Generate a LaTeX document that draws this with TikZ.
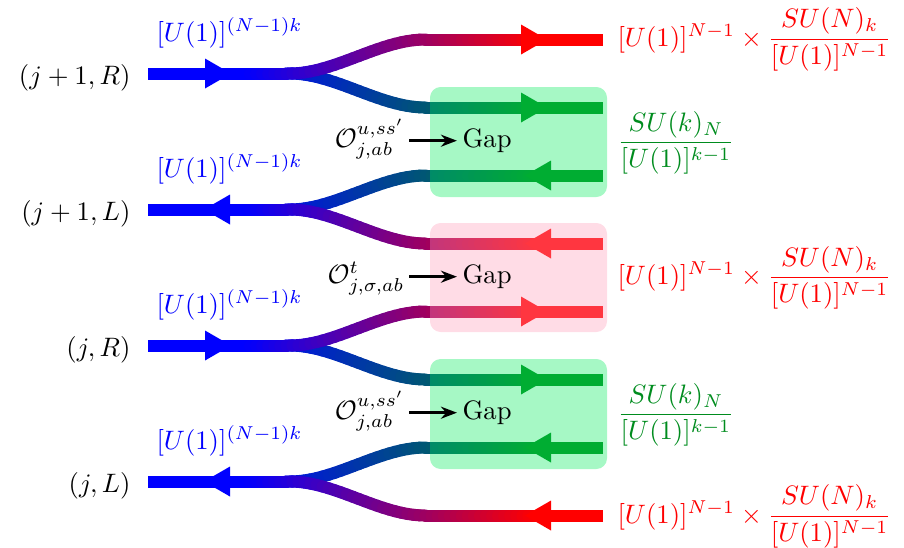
\documentclass[tikz,border=0pt]{standalone}
\usepackage{amsmath}
\usetikzlibrary{arrows.meta}
\definecolor{mygreen}{RGB}{0,140,30}
\definecolor{boxgreen}{RGB}{0,235,90}
\definecolor{boxpink}{RGB}{255,155,184}
\tikzset{
  wire/.style={line width=4.5pt},
  gapbox/.style={opacity=0.35, rounded corners=4pt},
  lbl/.style={inner sep=0pt},
  oparrow/.style={-{Stealth[length=6pt,width=4.5pt]}, line width=1pt, shorten <=1.5pt, shorten >=1.9pt}
}
% #1 stem y, #2 branch y, #3 end colour
\newcommand{\drawbranch}[3]{%
  \draw[wire, blue] (148,#1) -- (252,#1);
  \foreach \i in {0,...,47}{
    \pgfmathsetmacro{\xa}{250+\i*6.05}
    \pgfmathsetmacro{\xb}{\xa+6.05}
    \pgfmathsetmacro{\ta}{min(max((\xa-290)/135,0),1)}
    \pgfmathsetmacro{\tb}{min(max((\xb-290)/135,0),1)}
    \pgfmathsetmacro{\ya}{#1+(#2-#1)*(3*\ta*\ta-2*\ta*\ta*\ta)}
    \pgfmathsetmacro{\yb}{#1+(#2-#1)*(3*\tb*\tb-2*\tb*\tb*\tb)}
    \pgfmathsetmacro{\pc}{(\i+0.5)*100/48}
    \draw[wire, line cap=round, #3!\pc!blue] (\xa,\ya) -- (\xb,\yb);
  }
  \draw[wire, #3] (538,#2) -- (603,#2);
}
\newcommand{\headR}[3]{\fill[#3] (#1-26,#2-15) -- (#1,#2) -- (#1-26,#2+15) -- cycle;}
\newcommand{\headL}[3]{\fill[#3] (#1+26,#2-15) -- (#1,#2) -- (#1+26,#2+15) -- cycle;}
\begin{document}
\begin{tikzpicture}[x=0.375pt,y=-0.375pt]
\useasboundingbox (0,0) rectangle (904,547);
% channel j+1,R
\drawbranch{73.5}{107.5}{mygreen}
\drawbranch{73.5}{39.5}{red}
\headR{231}{73.5}{blue}
\headR{547}{39.5}{red}
\headR{547}{107.5}{mygreen}
% channel j+1,L
\drawbranch{209.5}{175.5}{mygreen}
\drawbranch{209.5}{243.5}{red}
\headL{204}{209.5}{blue}
\headL{525}{175.5}{mygreen}
\headL{525}{243.5}{red}
% channel j,R
\drawbranch{345.5}{379.5}{mygreen}
\drawbranch{345.5}{311.5}{red}
\headR{231}{345.5}{blue}
\headR{547}{311.5}{red}
\headR{547}{379.5}{mygreen}
% channel j,L
\drawbranch{481.5}{447.5}{mygreen}
\drawbranch{481.5}{515.5}{red}
\headL{204}{481.5}{blue}
\headL{525}{447.5}{mygreen}
\headL{525}{515.5}{red}
% boxes
\fill[boxgreen, gapbox] (430,87) rectangle (607,197);
\fill[boxpink, gapbox] (430,223) rectangle (607,332);
\fill[boxgreen, gapbox] (430,359) rectangle (607,469);
% left labels
\node[lbl, anchor=east] (l1) at (131,77.5) {$(j+1,R)$};
\node[lbl, anchor=east] (l2) at (131,213.5) {$(j+1,L)$};
\node[lbl, anchor=east] (l3) at (131,349.5) {$(j,R)$};
\node[lbl, anchor=east] (l4) at (131,485.5) {$(j,L)$};
% blue labels
\node[lbl, anchor=base west, text=blue] (u1) at (156,41.5) {$[U(1)]^{(N-1)k}$};
\node[lbl, anchor=base west, text=blue] (u2) at (156,177.5) {$[U(1)]^{(N-1)k}$};
\node[lbl, anchor=base west, text=blue] (u3) at (156,313.5) {$[U(1)]^{(N-1)k}$};
\node[lbl, anchor=base west, text=blue] (u4) at (156,449.5) {$[U(1)]^{(N-1)k}$};
% right labels
\node[lbl, anchor=base west, text=red] (r1) at (617,46) {$[U(1)]^{N-1}\times\dfrac{SU(N)_k}{[U(1)]^{N-1}}$};
\node[lbl, anchor=base west, text=mygreen] (g1) at (617,149.5) {$\dfrac{SU(k)_N}{[U(1)]^{k-1}}$};
\node[lbl, anchor=base west, text=red] (r2) at (617,284.5) {$[U(1)]^{N-1}\times\dfrac{SU(N)_k}{[U(1)]^{N-1}}$};
\node[lbl, anchor=base west, text=mygreen] (g2) at (617,421.5) {$\dfrac{SU(k)_N}{[U(1)]^{k-1}}$};
\node[lbl, anchor=base west, text=red] (r3) at (617,523) {$[U(1)]^{N-1}\times\dfrac{SU(N)_k}{[U(1)]^{N-1}}$};
% gaps and operators
\node[lbl, anchor=base west] (gap1) at (462,147.5) {Gap};
\node[lbl, anchor=base west] (gap2) at (462,283.5) {Gap};
\node[lbl, anchor=base west] (gap3) at (462,419.5) {Gap};
\node[lbl, anchor=base east] (op1) at (405,147.5) {$\mathcal{O}^{u,ss'}_{j,ab}$};
\node[lbl, anchor=base east] (op2) at (405,283.5) {$\mathcal{O}^{t}_{j,\sigma,ab}$};
\node[lbl, anchor=base east] (op3) at (405,419.5) {$\mathcal{O}^{u,ss'}_{j,ab}$};
\draw[oparrow] (op1.east |- gap1.west) -- (gap1.west);
\draw[oparrow] (op2.east |- gap2.west) -- (gap2.west);
\draw[oparrow] (op3.east |- gap3.west) -- (gap3.west);
\end{tikzpicture}
\end{document}
